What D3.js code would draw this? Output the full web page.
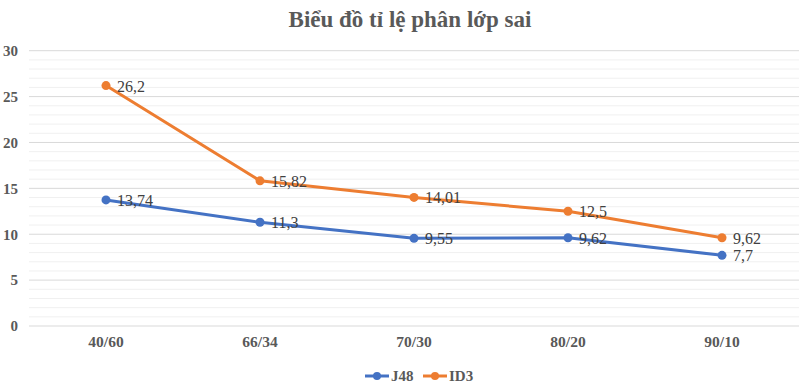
<!DOCTYPE html>
<html><head><meta charset="utf-8">
<script src="https://cdn.jsdelivr.net/npm/d3@7"></script>
<style>body{margin:0;background:#fff}svg{display:block}</style>
</head><body>
<svg id="c" width="800" height="391"></svg>
<script>
const categories = ["40/60","66/34","70/30","80/20","90/10"];
const j48 = [13.74, 11.3, 9.55, 9.62, 7.7];
const id3 = [26.2, 15.82, 14.01, 12.5, 9.62];
const j48Labels = ["13,74","11,3","9,55","9,62","7,7"];
const id3Labels = ["26,2","15,82","14,01","12,5","9,62"];
const yTicks = [0,5,10,15,20,25,30];
const minorTicks = d3.range(0,31,1);
const seriesNames = ["J48","ID3"];
const colors = ["#4472C4","#ED7D31"];

const svg = d3.select("#c");
const serif = "'Liberation Serif','Times New Roman',serif";
const x = d3.scaleBand().domain(categories).range([29, 799]);
const y = d3.scaleLinear().domain([0,30]).range([326, 50.7]);
const cx = d => x(d) + x.bandwidth()/2;

svg.append("text").attr("x",410).attr("y",27).attr("text-anchor","middle")
  .attr("font-family",serif).attr("font-weight","bold").attr("font-size",23)
  .attr("fill","#595959").text("Biểu đồ tỉ lệ phân lớp sai");

const g = svg.append("g");
g.selectAll("line.minor").data(minorTicks.filter(v=>v%5!==0)).join("line")
  .attr("x1",29).attr("x2",799).attr("y1",d=>y(d)).attr("y2",d=>y(d))
  .attr("stroke","#f0f0f0").attr("stroke-width",1);
g.selectAll("line.major").data(yTicks).join("line")
  .attr("x1",29).attr("x2",799).attr("y1",d=>y(d)).attr("y2",d=>y(d))
  .attr("stroke","#d9d9d9").attr("stroke-width",1);

const yAxis = d3.axisLeft(y).tickValues(yTicks).tickSize(0).tickPadding(0);
const ya = svg.append("g").attr("transform","translate(18,0)").call(yAxis);
ya.select(".domain").remove();
ya.selectAll("text").attr("font-family",serif).attr("font-weight","bold")
  .attr("font-size",15).attr("fill","#595959");

const xAxis = d3.axisBottom(x).tickSize(0).tickPadding(0);
const xa = svg.append("g").attr("transform","translate(0,336)").call(xAxis);
xa.select(".domain").remove();
xa.selectAll("text").attr("font-family",serif).attr("font-weight","bold")
  .attr("font-size",15.5).attr("fill","#595959");

const line = d3.line().x((d,i)=>cx(categories[i])).y(d=>y(d));
[[j48,j48Labels],[id3,id3Labels]].forEach(([vals,labs],k)=>{
  svg.append("path").datum(vals).attr("d",line).attr("fill","none")
    .attr("stroke",colors[k]).attr("stroke-width",3).attr("stroke-linejoin","round");
  svg.append("g").selectAll("circle").data(vals).join("circle")
    .attr("cx",(d,i)=>cx(categories[i])).attr("cy",d=>y(d)).attr("r",4.5)
    .attr("fill",colors[k]);
  svg.append("g").selectAll("text").data(vals).join("text")
    .attr("x",(d,i)=>cx(categories[i])+11).attr("y",d=>y(d)+6)
    .attr("font-family",serif).attr("font-size",16).attr("fill","#404040")
    .text((d,i)=>labs[i]);
});

const leg = svg.append("g");
const lx = [365, 423];
seriesNames.forEach((n,k)=>{
  leg.append("line").attr("x1",lx[k]).attr("x2",lx[k]+24).attr("y1",376).attr("y2",376)
    .attr("stroke",colors[k]).attr("stroke-width",3);
  leg.append("circle").attr("cx",lx[k]+12).attr("cy",376).attr("r",4).attr("fill",colors[k]);
  leg.append("text").attr("x",lx[k]+26).attr("y",381).attr("font-family",serif)
    .attr("font-weight","bold").attr("font-size",15).attr("fill","#595959").text(n);
});
</script>
</body></html>
